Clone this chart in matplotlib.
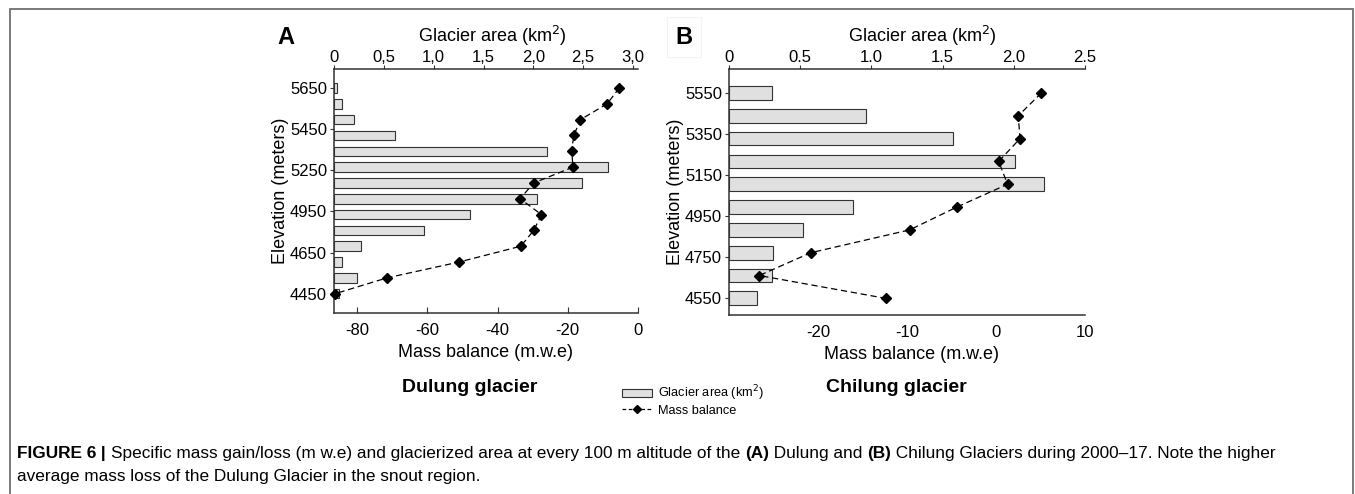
import numpy as np
import matplotlib.pyplot as plt
from matplotlib.patches import Patch, Rectangle
from matplotlib.lines import Line2D

plt.rcParams['font.family'] = ['Liberation Sans', 'DejaVu Sans']
plt.rcParams['axes.unicode_minus'] = False

# Dulung glacier (A) - bands listed from the top of the glacier down
elev_labels_a = ['5650', '5450', '5250', '4950', '4650', '4450']
area_a = [0.03, 0.08, 0.20, 0.61, 2.14, 2.75, 2.49, 2.04, 1.36, 0.90, 0.27, 0.08, 0.23, 0.05]  # km2
mb_a = [-5.3, -8.8, -16.4, -18.3, -18.9, -18.5, -29.7, -33.6, -27.5, -29.7, -33.4, -51.0, -71.5, -86.3]  # m w.e
area_ticks_a = [0, 0.5, 1.0, 1.5, 2.0, 2.5, 3.0]
area_ticklabels_a = ['0', '0,5', '1,0', '1,5', '2,0', '2,5', '3,0']
mb_ticks_a = [-80, -60, -40, -20, 0]

# Chilung glacier (B)
elev_labels_b = ['5550', '5350', '5150', '4950', '4750', '4550']
area_b = [0.30, 0.96, 1.57, 2.01, 2.21, 0.87, 0.52, 0.31, 0.30, 0.20]
mb_b = [5.1, 2.5, 2.7, 0.3, 1.3, -4.4, -9.7, -20.8, -26.6, -12.4]
area_ticks_b = [0, 0.5, 1.0, 1.5, 2.0, 2.5]
area_ticklabels_b = ['0', '0.5', '1.0', '1.5', '2.0', '2.5']
mb_ticks_b = [-20, -10, 0, 10]

W, H = 1355, 494
fig = plt.figure(figsize=(W / 100, H / 100), dpi=100)


def px(l, t, r, b):
    return [l / W, 1 - b / H, (r - l) / W, (b - t) / H]


def panel(rect, area, mb, elev_labels, alim, atk, atl, mlim, mtk, ylim, bot_len, alab_x, mlab_x):
    ax = fig.add_axes(rect)
    ax2 = ax.twiny()
    pos = np.arange(len(area))
    ax.barh(pos, area, height=0.6, color='#e0e0e0', edgecolor='#333333', lw=0.8)
    ax2.plot(mb, pos, color='black', lw=0.9, linestyle=(0, (5, 3)),
             marker='D', markersize=5, clip_on=False)
    ax.set_ylim(*ylim)
    ax.set_xlim(*alim)
    ax2.set_xlim(*mlim)
    ax.set_yticks(np.linspace(pos[0], pos[-1], len(elev_labels)))
    ax.set_yticklabels(elev_labels)
    ax.set_xticks(atk)
    ax.set_xticklabels(atl)
    ax2.set_xticks(mtk)
    ax.xaxis.tick_top()
    ax.xaxis.set_label_position('top')
    ax2.xaxis.tick_bottom()
    ax2.xaxis.set_label_position('bottom')
    for a in (ax, ax2):
        for s in a.spines.values():
            s.set_color('#333333')
            s.set_linewidth(1.1)
        a.spines['right'].set_visible(False)
    ax.spines['bottom'].set_visible(False)
    ax2.spines['top'].set_visible(False)
    ax2.spines['left'].set_visible(False)
    ax.tick_params(axis='x', direction='out', length=3, labelsize=12, pad=0, color='#333333')
    ax.tick_params(axis='y', direction='out', length=3, labelsize=12, pad=2, color='#333333')
    ax2.tick_params(axis='x', direction='in', length=bot_len, labelsize=12, pad=7, color='#333333')
    ax.set_xlabel('Glacier area (km$^2$)', fontsize=13)
    ax.xaxis.set_label_coords(alab_x, 1.11)
    ax2.set_xlabel('Mass balance (m.w.e)', fontsize=13)
    ax2.xaxis.set_label_coords(mlab_x, -0.125)
    ax.set_ylabel('Elevation (meters)', fontsize=13, labelpad=0.5)
    return ax, ax2


panel(px(334, 69, 638, 313), area_a, mb_a, elev_labels_a, (0, 3.05), area_ticks_a,
      area_ticklabels_a, (-86.6, 0), mb_ticks_a, (13 + 1.22, -1.2), 4, 0.52, 0.5)
panel(px(729, 69, 1085, 315), area_b, mb_b, elev_labels_b, (0, 2.5), area_ticks_b,
      area_ticklabels_b, (-30, 10), mb_ticks_b, (9 + 0.73, -1.05), 0, 0.543, 0.514)

fig.text(286 / W, 1 - 37 / H, 'A', fontsize=17, fontweight='bold', ha='center', va='center')
fig.text(684 / W, 1 - 37 / H, 'B', fontsize=17, fontweight='bold', ha='center', va='center',
         bbox=dict(boxstyle='square,pad=0.35', fc='white', ec='#f3f3f3', lw=0.8))

fig.text(470 / W, 1 - 388 / H, 'Dulung glacier', fontsize=14, fontweight='bold',
         ha='center', va='center')
fig.text(896 / W, 1 - 388 / H, 'Chilung glacier', fontsize=14, fontweight='bold',
         ha='center', va='center')

handles = [Patch(facecolor='#e0e0e0', edgecolor='#333333', lw=0.8),
           Line2D([], [], color='black', lw=0.9, linestyle=(0, (3, 2)), marker='D', markersize=4)]
fig.legend(handles, ['Glacier area (km$^2$)', 'Mass balance'], loc='upper left',
           bbox_to_anchor=(616 / W, 1 - 377 / H), frameon=False, fontsize=9.2,
           handlelength=2.3, handleheight=0.6, handletextpad=0.5, labelspacing=0.12, borderpad=0)

# outer frame
fig.patches.append(Rectangle((9.5 / W, -0.05), (1353 - 9.5) / W, 1.05 - 8.5 / H,
                             transform=fig.transFigure, fill=False, ec='#707070', lw=1.3))

# caption, pieces chained one after another
cap_size = 12.4
segs = [('FIGURE 6', 'bold'), (' | ', 'bold'),
        ('Specific mass gain/loss (m w.e) and glacierized area at every 100 m altitude of the ', 'normal'),
        ('(A)', 'bold'), (' Dulung and ', 'normal'), ('(B)', 'bold'),
        (' Chilung Glaciers during 2000\u201317. Note the higher', 'normal')]
prev = fig.text(17 / W, 1 - 461 / H, segs[0][0], fontsize=cap_size, fontweight=segs[0][1],
                ha='left', va='bottom')
for s, w in segs[1:]:
    prev = fig.add_artist(plt.Annotation(s, xy=(1, 0), xycoords=prev, fontsize=cap_size,
                                         fontweight=w, ha='left', va='bottom'))
fig.text(17 / W, 1 - 484 / H, 'average mass loss of the Dulung Glacier in the snout region.',
         fontsize=cap_size, ha='left', va='bottom')

fig.savefig('out.png', dpi=100)
